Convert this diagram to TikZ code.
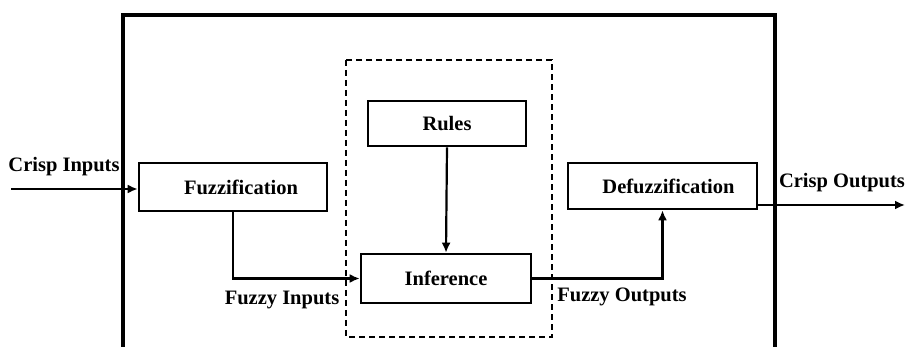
\documentclass[tikz,border=0pt]{standalone}
\usepackage{fontspec}
\setmainfont{Liberation Serif}
\usetikzlibrary{arrows.meta}
\begin{document}
\begin{tikzpicture}[x=1pt,y=-1pt,
  every node/.style={font=\fontsize{20.5}{24}\selectfont\bfseries, inner sep=0pt},
  block/.style={draw, line width=2.6pt, rectangle},
  lbl/.style={anchor=center},
  conn/.style={line width=2.2pt, -{Latex[length=10pt,width=9pt]}},
  frame/.style={line width=3.2pt},
  group/.style={draw, line width=1.6pt, dash pattern=on 6pt off 4pt}]
  \useasboundingbox (0,0) rectangle (906,347);

  % system frame, open at the bottom
  \draw[frame] (123,347) -- (123,15) -- (775,15) -- (775,347);

  % inference engine group
  \draw[group] (346,60) rectangle (552,337);

  % processing blocks
  \node[block, minimum width=188pt, minimum height=48pt] (fuzz) at (233,187) {\hspace*{16pt}Fuzzification};
  \node[block, minimum width=158pt, minimum height=45pt] (rules) at (447,123.5) {Rules};
  \node[block, minimum width=170pt, minimum height=49pt] (inf) at (446,278.5) {Inference};
  \node[block, minimum width=189pt, minimum height=46pt] (defuzz) at (662.5,186) {\hspace*{12pt}Defuzzification};

  % free ends of the outer arrows
  \coordinate (cin) at (11,189);
  \coordinate (cout) at (905,205);

  % connectors
  \draw[conn] (cin) -- (cin -| fuzz.west);
  \draw[conn] (fuzz.south) |- (inf.west);
  \draw[conn] (rules.south) -- (inf.north);
  \draw[conn] (inf.east) -| (defuzz.south);
  \draw[conn] (cout -| defuzz.east) -- (cout);

  % signal labels
  \node[lbl] (lcin) at (64,167) {Crisp Inputs};
  \node[lbl] (lfin) at (282,300) {Fuzzy Inputs};
  \node[lbl] (lfout) at (622,297) {Fuzzy Outputs};
  \node[lbl] (lcout) at (842,183) {Crisp Outputs};
\end{tikzpicture}
\end{document}
